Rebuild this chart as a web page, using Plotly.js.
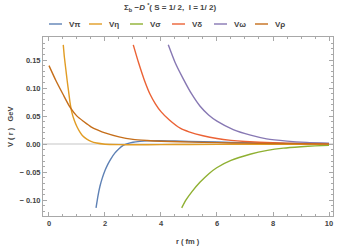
<!DOCTYPE html>
<html><head><meta charset="utf-8">
<script src="https://cdn.plot.ly/plotly-3.0.1.min.js"></script>
<style>html,body{margin:0;padding:0;background:#fff}#chart{width:339px;height:247px}</style>
</head><body><div id="chart"></div>
<script>
// r (fm) and V(r) (GeV)
const rPi  = [1.68,1.75,1.82,1.9,2.0,2.1,2.2,2.35,2.5,2.65,2.8,3.0,3.25,3.5,4.0,4.5,5.0,6.0,7.0,8.0,9.0,10.0];
const vPi  = [-0.1136,-0.092,-0.075,-0.061,-0.047,-0.036,-0.027,-0.016,-0.008,-0.002,0.001,0.0035,0.005,0.0058,0.006,0.0057,0.005,0.0038,0.0027,0.0018,0.0012,0.0008];
const rEta = [0.51,0.55,0.6,0.65,0.7,0.75,0.81,0.9,1.0,1.1,1.2,1.35,1.5,1.7,2.0,2.5,3.0,4.0,5.0,7.0,10.0];
const vEta = [0.177,0.155,0.134,0.113,0.094,0.075,0.058,0.043,0.031,0.022,0.015,0.009,0.005,0.002,0.0,-0.0008,-0.001,-0.0008,-0.0005,-0.0002,0.0];
const rSig = [4.74,4.9,5.1,5.39,5.7,5.99,6.5,7.18,7.8,8.37,9.0,9.5,10.0];
const vSig = [-0.1136,-0.099,-0.085,-0.068,-0.053,-0.042,-0.029,-0.018,-0.011,-0.007,-0.0045,-0.003,-0.002];
const rDel = [3.01,3.2,3.4,3.61,3.8,4.0,4.3,4.7,5.0,5.5,6.0,6.5,7.0,8.0,9.0,10.0];
const vDel = [0.177,0.145,0.115,0.089,0.072,0.058,0.043,0.028,0.022,0.015,0.010,0.0068,0.0048,0.0025,0.0013,0.0007];
const rOme = [4.26,4.5,4.8,5.1,5.39,5.7,6.0,6.58,7.2,7.77,8.5,9.2,10.0];
const vOme = [0.177,0.146,0.116,0.089,0.068,0.052,0.041,0.026,0.016,0.0095,0.0055,0.0032,0.0018];
const rRho = [0,0.25,0.5,0.75,1.0,1.25,1.5,1.75,2.0,2.5,3.0,3.5,4.0,4.68,5.5,6.5,7.5,8.5,10.0];
const vRho = [0.140,0.113,0.089,0.066,0.050,0.040,0.031,0.025,0.020,0.013,0.0085,0.0065,0.0052,0.0042,0.0032,0.0022,0.0015,0.001,0.0005];

const names  = ['Vπ','Vη','Vσ','Vδ','Vω','Vρ'];
const colors = ['#5E81B5','#E19C24','#8FB032','#EB6235','#8778B3','#C56E1A'];
const xs = [rPi,rEta,rSig,rDel,rOme,rRho];
const ys = [vPi,vEta,vSig,vDel,vOme,vRho];

const xTickVals = [0,2,4,6,8,10];
const xTickText = ['0','2','4','6','8','10'];
const yTickVals = [-0.1,-0.05,0,0.05,0.1,0.15];
const yTickText = ['− 0.10','− 0.05','0.00','0.05','0.10','0.15'];

const W=339,H=247, L=43,R=333,T=37,B=216;
const px = x => (x-L)/(R-L);
const py = y => (B-y)/(B-T);

const traces = names.map((n,i)=>({
  x: xs[i], y: ys[i], name: n, type:'scatter', mode:'lines',
  line:{color:colors[i], width:1.4, shape:'spline', smoothing:0.6},
  showlegend:false, hoverinfo:'skip'
}));

const tfont = {family:'Liberation Sans, Arial, sans-serif', size:7.5, color:'#444', weight:'bold'};
const shapes = [], annotations = [];
const legLineStart = [49,89,130,172,214,255];
names.forEach((n,i)=>{
  const x0 = legLineStart[i];
  shapes.push({type:'line', xref:'paper', yref:'paper', x0:px(x0), x1:px(x0+13), y0:py(24), y1:py(24),
    line:{color:colors[i], width:1.4}});
  annotations.push({xref:'paper', yref:'paper', x:px(x0+18), y:py(24), xanchor:'left', yanchor:'middle',
    text:n, showarrow:false, font:{family:'Liberation Sans, Arial, sans-serif', size:8, color:'#444', weight:'bold'}});
});
annotations.push({xref:'paper', yref:'paper', x:px(170), y:py(8), xanchor:'center', yanchor:'middle',
  text:'Σ<sub>b</sub> −<i>D</i> <sup>*</sup>( S = 1/ 2,  I = 1/ 2)', showarrow:false,
  font:{family:'Liberation Sans, Arial, sans-serif', size:8, color:'#444', weight:'bold'}});
annotations.push({xref:'paper', yref:'paper', x:px(188), y:py(241.5), xanchor:'center', yanchor:'middle',
  text:'r ( fm )', showarrow:false, font:tfont});
annotations.push({xref:'paper', yref:'paper', x:px(10), y:py(127), xanchor:'center', yanchor:'middle',
  text:'V ( r )   GeV', textangle:-90, showarrow:false, font:tfont});

const axCommon = {showline:true, linecolor:'#a8a8a8', linewidth:1, mirror:'allticks',
  ticks:'inside', ticklen:4, tickcolor:'#a8a8a8', tickwidth:1, showgrid:false,
  tickfont:tfont, fixedrange:true};

const layout = {
  width:W, height:H, margin:{l:L, r:W-R, t:T, b:H-B, pad:0},
  paper_bgcolor:'#fff', plot_bgcolor:'#fff',
  xaxis:Object.assign({}, axCommon, {range:[-0.214,10.143], tickmode:'array', tickvals:xTickVals, ticktext:xTickText,
    zeroline:false, minor:{ticks:'inside', dtick:0.5, tick0:0, ticklen:2, tickcolor:'#a8a8a8'}}),
  yaxis:Object.assign({}, axCommon, {range:[-0.128,0.191], tickmode:'array', tickvals:yTickVals, ticktext:yTickText,
    zeroline:true, zerolinecolor:'#e2e2e2', zerolinewidth:2,
    minor:{ticks:'inside', dtick:0.01, tick0:0, ticklen:2, tickcolor:'#a8a8a8'}}),
  shapes:shapes, annotations:annotations, showlegend:false
};
Plotly.newPlot('chart', traces, layout, {staticPlot:true, displayModeBar:false});
</script></body></html>
